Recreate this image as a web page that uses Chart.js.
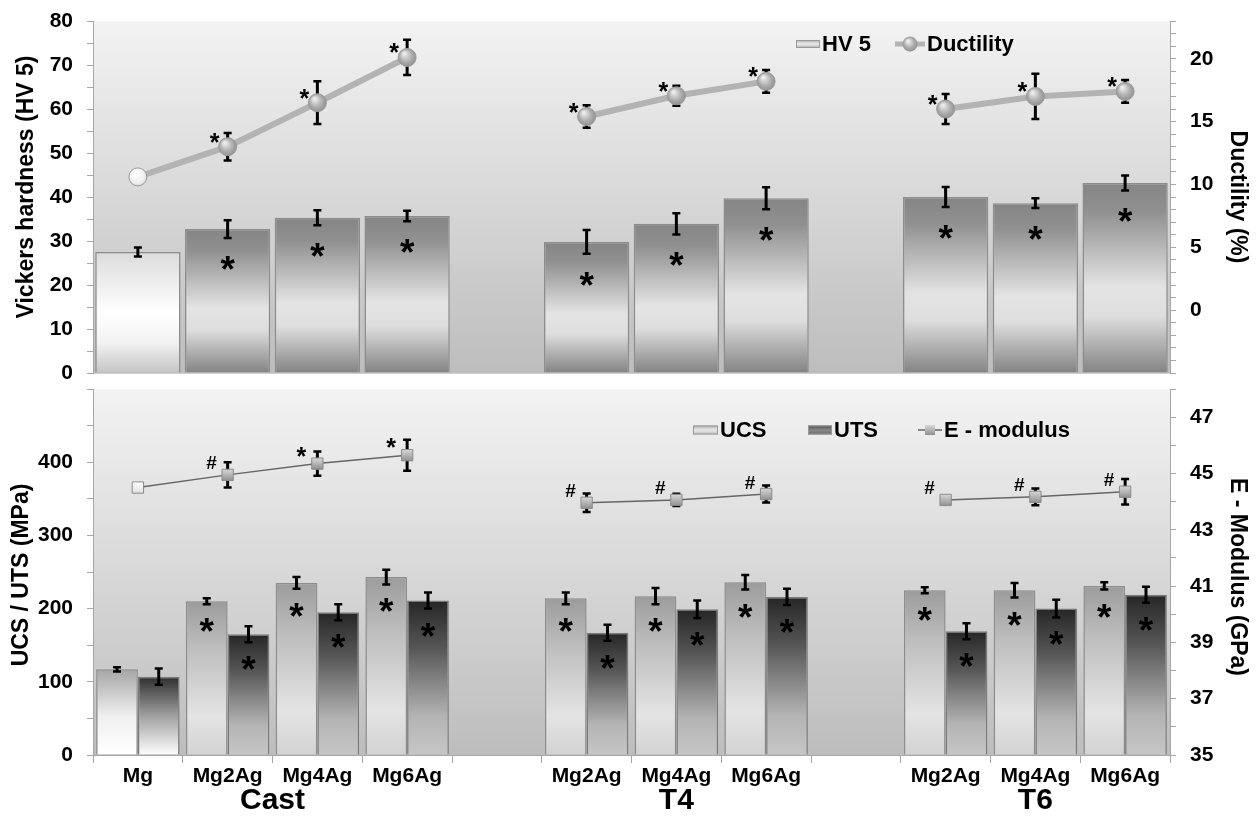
<!DOCTYPE html>
<html>
<head>
<meta charset="utf-8">
<script src="https://cdn.jsdelivr.net/npm/chart.js@4.4.1/dist/chart.umd.min.js"></script>
<style>
  html, body { margin: 0; padding: 0; background: #fff; }
  #topChart { position: absolute; left: 0; top: 0; }
  #botChart { position: absolute; left: 0; top: 380px; }
</style>
</head>
<body>
<canvas id="topChart" width="1258" height="400"></canvas>
<canvas id="botChart" width="1258" height="438"></canvas>
<script>
// categories (empty slots separate the Cast / T4 / T6 groups)
const categories = ['Mg', 'Mg2Ag', 'Mg4Ag', 'Mg6Ag', '', 'Mg2Ag', 'Mg4Ag', 'Mg6Ag', '', 'Mg2Ag', 'Mg4Ag', 'Mg6Ag'];
const groupLabels = ['Cast', 'T4', 'T6'];
const groupFirst = [0, 5, 9];
const groupLast = [3, 7, 11];

// top panel
const hv = [27.5, 32.7, 35.3, 35.7, null, 29.8, 33.9, 39.7, null, 40.0, 38.6, 43.2];
const hvErr = [1.0, 2.0, 1.7, 1.2, null, 2.7, 2.4, 2.5, null, 2.3, 1.1, 1.7];
const hvSig = ['', '*', '*', '*', '', '*', '*', '*', '', '*', '*', '*'];
const ductility = [10.6, 13.0, 16.5, 20.1, null, 15.4, 17.05, 18.2, null, 16.0, 17.0, 17.4];
const ductErr = [0, 1.1, 1.7, 1.4, null, 0.9, 0.8, 0.9, null, 1.2, 1.8, 0.9];
const ductSig = ['', '*', '*', '*', '', '*', '*', '*', '', '*', '*', '*'];

// bottom panel
const ucs = [117, 210, 235, 243, null, 214, 217, 236, null, 225, 225, 231];
const ucsErr = [3, 4, 8, 10, null, 8, 11, 10, null, 4, 10, 5];
const ucsSig = ['', '*', '*', '*', '', '*', '*', '*', '', '*', '*', '*'];
const uts = [107, 165, 195, 211, null, 167, 199, 216, null, 169, 200, 219];
const utsErr = [11, 11, 11, 11, null, 11, 12, 11, null, 11, 12, 11];
const utsSig = ['', '*', '*', '*', '', '*', '*', '*', '', '*', '*', '*'];
const eModulus = [44.5, 44.95, 45.35, 45.65, null, 43.96, 44.06, 44.27, null, 44.06, 44.17, 44.35];
const eErr = [0.15, 0.45, 0.43, 0.55, null, 0.33, 0.22, 0.3, null, 0, 0.3, 0.45];
const eSig = ['', '#', '*', '*', '', '#', '#', '#', '', '#', '#', '#'];

// tick labels shown on each axis
const hvTicks = [0, 10, 20, 30, 40, 50, 60, 70, 80];
const ductTicks = [0, 5, 10, 15, 20];
const stressTicks = [0, 100, 200, 300, 400];
const modTicks = [35, 37, 39, 41, 43, 45, 47];

const FONT = "'Liberation Sans', Arial, sans-serif";
Chart.defaults.font.family = FONT;
Chart.defaults.color = '#000';

function addStops(g, stops) {
  stops.forEach(s => g.addColorStop(s[0], s[1]));
  return g;
}

// vertical metallic gradient per bar
function barFill(stops, firstStops) {
  return (c) => {
    const ch = c.chart;
    const a = ch.chartArea;
    if (!a || c.raw == null) return stops[1][1];
    const top = ch.scales[c.dataset.yAxisID].getPixelForValue(c.raw);
    const g = ch.ctx.createLinearGradient(0, top, 0, a.bottom);
    return addStops(g, c.dataIndex === 0 && firstStops ? firstStops : stops);
  };
}

function pointFill(kind) {
  return (c) => {
    const ch = c.chart;
    if (!ch.chartArea || c.raw == null) return '#aaa';
    const x = ch.scales.x.getPixelForValue(c.dataIndex);
    const y = ch.scales[c.dataset.yAxisID].getPixelForValue(c.raw);
    const first = c.dataIndex === 0;
    if (kind === 'sphere') {
      const g = ch.ctx.createRadialGradient(x - 3, y - 4, 1, x, y, 10);
      return addStops(g, first ? [[0, '#ffffff'], [0.7, '#f0f0f0'], [1, '#cfcfcf']]
                               : [[0, '#ececec'], [0.55, '#b0b0b0'], [1, '#8c8c8c']]);
    }
    const g = ch.ctx.createLinearGradient(0, y - 6, 0, y + 6);
    return addStops(g, first ? [[0, '#ffffff'], [1, '#e0e0e0']]
                             : [[0, '#d8d8d8'], [0.5, '#b5b5b5'], [1, '#8e8e8e']]);
  };
}

const hvStops = [[0, '#858585'], [0.15, '#909090'], [0.55, '#e4e4e4'], [0.7, '#dedede'], [1, '#838383']];
const hvFirstStops = [[0, '#dcdcdc'], [0.5, '#ffffff'], [0.75, '#f2f2f2'], [1, '#c4c4c4']];
const ucsStops = [[0, '#9c9c9c'], [0.3, '#bdbdbd'], [0.75, '#e4e4e4'], [1, '#d2d2d2']];
const ucsFirstStops = [[0, '#a6a6a6'], [0.55, '#f0f0f0'], [1, '#ffffff']];
const utsStops = [[0, '#262626'], [0.3, '#555555'], [0.75, '#b4b4b4'], [1, '#c6c6c6']];
const utsFirstStops = [[0, '#2e2e2e'], [0.5, '#a0a0a0'], [1, '#ffffff']];

// plot area background
const plotBg = {
  id: 'plotBg',
  beforeDraw(chart) {
    const { ctx, chartArea: a } = chart;
    const g = ctx.createLinearGradient(0, a.top, 0, a.bottom);
    g.addColorStop(0, '#f3f3f3');
    g.addColorStop(1, '#bdbdbd');
    ctx.save();
    ctx.fillStyle = g;
    ctx.fillRect(a.left, a.top, a.right - a.left, a.bottom - a.top);
    ctx.restore();
  }
};

function drawErrors(chart, i) {
  const ds = chart.data.datasets[i];
  if (!ds.errors) return;
  const meta = chart.getDatasetMeta(i);
  const ys = chart.scales[meta.yAxisID];
  const ctx = chart.ctx;
  ctx.save();
  ctx.strokeStyle = '#000';
  meta.data.forEach((el, j) => {
    const v = ds.data[j], e = ds.errors[j];
    if (v == null || !e) return;
    const y1 = ys.getPixelForValue(v + e), y2 = ys.getPixelForValue(v - e);
    ctx.lineWidth = 3;
    ctx.beginPath();
    ctx.moveTo(el.x, y1);
    ctx.lineTo(el.x, y2);
    ctx.stroke();
    ctx.lineWidth = 2.5;
    ctx.beginPath();
    ctx.moveTo(el.x - 4, y1); ctx.lineTo(el.x + 4, y1);
    ctx.moveTo(el.x - 4, y2); ctx.lineTo(el.x + 4, y2);
    ctx.stroke();
  });
  ctx.restore();
}

// error bars: behind the markers of a line, over the bars
const errorBars = {
  id: 'errorBars',
  beforeDatasetDraw(chart, args) {
    if (chart.data.datasets[args.index].type === 'line') drawErrors(chart, args.index);
  },
  afterDatasetDraw(chart, args) {
    if (chart.data.datasets[args.index].type !== 'line') drawErrors(chart, args.index);
  }
};

function drawMark(ctx, txt, x, cy, size) {
  ctx.font = 'bold ' + size + 'px ' + FONT;
  const m = ctx.measureText(txt);
  const base = cy + (m.actualBoundingBoxAscent - m.actualBoundingBoxDescent) / 2;
  ctx.fillText(txt, x, base);
}

// significance marks (* and #)
const sigMarks = {
  id: 'sigMarks',
  afterDatasetsDraw(chart) {
    const ctx = chart.ctx;
    ctx.save();
    ctx.fillStyle = '#000';
    ctx.textAlign = 'center';
    ctx.textBaseline = 'alphabetic';
    chart.data.datasets.forEach((ds, i) => {
      if (!ds.sig) return;
      const meta = chart.getDatasetMeta(i);
      const ys = chart.scales[meta.yAxisID];
      meta.data.forEach((el, j) => {
        const s = ds.sig[j];
        if (!s || ds.data[j] == null) return;
        if (ds.type === 'line') {
          drawMark(ctx, s, el.x + ds.sigDx, el.y + ds.sigDy, s === '#' ? 19 : ds.sigSize);
        } else {
          const low = ys.getPixelForValue(ds.data[j] - (ds.errors[j] || 0));
          drawMark(ctx, s, el.x, low + ds.sigDrop, ds.sigSize);
        }
      });
    });
    ctx.restore();
  }
};

// legend drawn inside the plot, as in the original figure
const manualLegend = {
  id: 'manualLegend',
  afterDraw(chart, args, opts) {
    const ctx = chart.ctx;
    ctx.save();
    ctx.font = 'bold 22px ' + FONT;
    ctx.textBaseline = 'middle';
    ctx.textAlign = 'left';
    opts.items.forEach(it => {
      const y = opts.y;
      if (it.kind === 'box') {
        const g = ctx.createLinearGradient(0, y - it.h / 2, 0, y + it.h / 2);
        addStops(g, it.stops);
        ctx.fillStyle = g;
        ctx.fillRect(it.x, y - it.h / 2, it.w, it.h);
        ctx.strokeStyle = '#999';
        ctx.lineWidth = 1;
        ctx.strokeRect(it.x + 0.5, y - it.h / 2 + 0.5, it.w - 1, it.h - 1);
      } else {
        ctx.strokeStyle = it.color;
        ctx.lineWidth = it.lineWidth;
        ctx.beginPath();
        ctx.moveTo(it.x, y);
        ctx.lineTo(it.x + it.w, y);
        ctx.stroke();
        const cx = it.x + it.w / 2;
        if (it.marker === 'circle') {
          const g = ctx.createRadialGradient(cx - 2, y - 3, 1, cx, y, 8);
          addStops(g, [[0, '#ececec'], [0.55, '#b0b0b0'], [1, '#8c8c8c']]);
          ctx.fillStyle = g;
          ctx.beginPath();
          ctx.arc(cx, y, 7.5, 0, Math.PI * 2);
          ctx.fill();
        } else {
          const g = ctx.createLinearGradient(0, y - 5, 0, y + 5);
          addStops(g, [[0, '#d8d8d8'], [1, '#8e8e8e']]);
          ctx.fillStyle = g;
          ctx.fillRect(cx - 5, y - 5, 10, 10);
        }
      }
      ctx.fillStyle = '#000';
      ctx.fillText(it.text, it.x + it.w + 2, y + 1);
    });
    ctx.restore();
  }
};

// rotated axis titles
const sideTitles = {
  id: 'sideTitles',
  afterDraw(chart, args, opts) {
    const ctx = chart.ctx;
    ctx.save();
    ctx.font = 'bold 23px ' + FONT;
    ctx.fillStyle = '#000';
    ctx.textAlign = 'center';
    ctx.textBaseline = 'middle';
    opts.items.forEach(t => {
      ctx.save();
      ctx.translate(t.x, t.y);
      ctx.rotate(t.rot * Math.PI / 180);
      ctx.fillText(t.text, 0, 0);
      ctx.restore();
    });
    ctx.restore();
  }
};

// Cast / T4 / T6 under the category labels
const groupNames = {
  id: 'groupNames',
  afterDraw(chart, args, opts) {
    if (!opts.show) return;
    const ctx = chart.ctx;
    const xs = chart.scales.x;
    ctx.save();
    ctx.font = 'bold 30px ' + FONT;
    ctx.fillStyle = '#000';
    ctx.textAlign = 'center';
    ctx.textBaseline = 'middle';
    groupLabels.forEach((g, k) => {
      const x = (xs.getPixelForValue(groupFirst[k]) + xs.getPixelForValue(groupLast[k])) / 2;
      ctx.fillText(g, x, chart.chartArea.bottom + 46);
    });
    ctx.restore();
  }
};

function yAxis(pos, min, max, step, shown, width) {
  return {
    position: pos,
    min: min,
    max: max,
    grid: { drawOnChartArea: false, color: '#a6a6a6', tickLength: 6 },
    border: { color: '#a6a6a6' },
    ticks: {
      stepSize: step,
      autoSkip: false,
      padding: 14,
      color: '#000',
      font: { size: 21, weight: 'bold' },
      callback: (v) => shown.includes(v) ? v : ''
    },
    afterFit: (s) => { s.width = width; s.paddingTop = 0; s.paddingBottom = 0; }
  };
}

const topConfig = {
  type: 'bar',
  data: {
    labels: categories,
    datasets: [{
      type: 'line',
      label: 'Ductility',
      data: ductility,
      errors: ductErr,
      sig: ductSig, sigDx: -13, sigDy: -9, sigSize: 25,
      yAxisID: 'y2',
      order: 0,
      borderColor: '#b3b3b3',
      borderWidth: 6,
      tension: 0,
      spanGaps: false,
      pointRadius: 9,
      pointBackgroundColor: pointFill('sphere'),
      pointBorderColor: '#9a9a9a',
      pointBorderWidth: 1
    }, {
      type: 'bar',
      label: 'HV 5',
      data: hv,
      errors: hvErr,
      sig: hvSig, sigDrop: 25, sigSize: 37,
      yAxisID: 'y',
      order: 1,
      backgroundColor: barFill(hvStops, hvFirstStops),
      borderColor: '#8c8c8c',
      borderWidth: 1.5,
      categoryPercentage: 0.95,
      barPercentage: 1
    }]
  },
  options: {
    responsive: false,
    animation: false,
    events: [],
    layout: { padding: { top: 21, left: 0, right: 0, bottom: 0 } },
    plugins: {
      legend: { display: false },
      tooltip: { enabled: false },
      manualLegend: {
        y: 44,
        items: [
          { kind: 'box', x: 796, w: 24, h: 8, text: 'HV 5', stops: [[0, '#a8a8a8'], [0.5, '#eeeeee'], [1, '#a8a8a8']] },
          { kind: 'line', x: 895, w: 30, color: '#b3b3b3', lineWidth: 5, marker: 'circle', text: 'Ductility' }
        ]
      },
      sideTitles: {
        items: [
          { text: 'Vickers hardness (HV 5)', x: 27, y: 187, rot: -90 },
          { text: 'Ductility (%)', x: 1237, y: 197, rot: 90 }
        ]
      },
      groupNames: { show: false }
    },
    scales: {
      x: {
        offset: true,
        grid: { display: false },
        ticks: { display: false },
        border: { color: '#d0d0d0' },
        afterFit: (s) => { s.height = 27; s.paddingLeft = 0; s.paddingRight = 0; }
      },
      y: yAxis('left', 0, 80, 5, hvTicks, 93),
      y2: yAxis('right', -5, 23, 1, ductTicks, 88)
    }
  },
  plugins: [plotBg, errorBars, sigMarks, manualLegend, sideTitles, groupNames]
};

const botConfig = {
  type: 'bar',
  data: {
    labels: categories,
    datasets: [{
      type: 'line',
      label: 'E - modulus',
      data: eModulus,
      errors: eErr,
      sig: eSig, sigDx: -16, sigDy: -12, sigSize: 25,
      yAxisID: 'y2',
      order: 0,
      borderColor: '#666666',
      borderWidth: 1.5,
      tension: 0,
      spanGaps: false,
      pointStyle: 'rect',
      pointRadius: 8,
      pointBackgroundColor: pointFill('square'),
      pointBorderColor: '#8a8a8a',
      pointBorderWidth: 1
    }, {
      type: 'bar',
      label: 'UCS',
      data: ucs,
      errors: ucsErr,
      sig: ucsSig, sigDrop: 21, sigSize: 37,
      yAxisID: 'y',
      order: 1,
      backgroundColor: barFill(ucsStops, ucsFirstStops),
      borderColor: '#8c8c8c',
      borderWidth: 1.5,
      categoryPercentage: 0.93,
      barPercentage: 1
    }, {
      type: 'bar',
      label: 'UTS',
      data: uts,
      errors: utsErr,
      sig: utsSig, sigDrop: 21, sigSize: 37,
      yAxisID: 'y',
      order: 1,
      backgroundColor: barFill(utsStops, utsFirstStops),
      borderColor: '#7a7a7a',
      borderWidth: 1.5,
      categoryPercentage: 0.93,
      barPercentage: 1
    }]
  },
  options: {
    responsive: false,
    animation: false,
    events: [],
    layout: { padding: { top: 9, left: 0, right: 0, bottom: 0 } },
    plugins: {
      legend: { display: false },
      tooltip: { enabled: false },
      manualLegend: {
        y: 50,
        items: [
          { kind: 'box', x: 693, w: 25, h: 9, text: 'UCS', stops: [[0, '#b0b0b0'], [0.5, '#e8e8e8'], [1, '#c0c0c0']] },
          { kind: 'box', x: 808, w: 24, h: 9, text: 'UTS', stops: [[0, '#4a4a4a'], [0.5, '#888888'], [1, '#6a6a6a']] },
          { kind: 'line', x: 918, w: 24, color: '#666666', lineWidth: 1.5, marker: 'square', text: 'E - modulus' }
        ]
      },
      sideTitles: {
        items: [
          { text: 'UCS / UTS (MPa)', x: 22, y: 195, rot: -90 },
          { text: 'E - Modulus (GPa)', x: 1237, y: 197, rot: 90 }
        ]
      },
      groupNames: { show: true }
    },
    scales: {
      x: {
        offset: true,
        grid: { offset: true, drawOnChartArea: false, color: '#a6a6a6', tickLength: 8 },
        border: { color: '#a6a6a6' },
        ticks: { autoSkip: false, maxRotation: 0, padding: 1, color: '#000', font: { size: 21, weight: 'bold' } },
        afterFit: (s) => { s.height = 63; s.paddingLeft = 0; s.paddingRight = 0; }
      },
      y: yAxis('left', 0, 500, 50, stressTicks, 93),
      y2: yAxis('right', 35, 48, 1, modTicks, 88)
    }
  },
  plugins: [plotBg, errorBars, sigMarks, manualLegend, sideTitles, groupNames]
};

const topChart = new Chart(document.getElementById('topChart'), topConfig);
const botChart = new Chart(document.getElementById('botChart'), botConfig);
</script>
</body>
</html>
